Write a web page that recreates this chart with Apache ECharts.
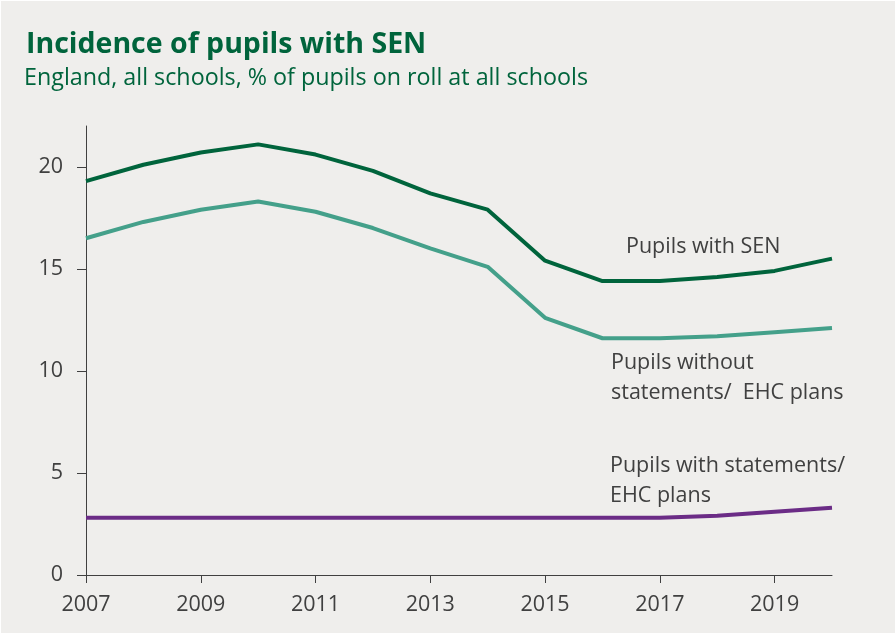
<!DOCTYPE html>
<html>
<head>
<meta charset="utf-8">
<script src="https://cdn.jsdelivr.net/npm/echarts@6/dist/echarts.min.js"></script>
<style>
  html, body { margin: 0; padding: 0; background: #fff; }
  #chart { width: 894px; height: 632px; margin: 1px 0 0 1px; background: #efeeec; }
</style>
</head>
<body>
<div id="chart"></div>
<script>
var years = ['2007', '2008', '2009', '2010', '2011', '2012', '2013', '2014', '2015', '2016', '2017', '2018', '2019', '2020']
var withSen = [19.3, 20.1, 20.7, 21.1, 20.6, 19.8, 18.7, 17.9, 15.4, 14.4, 14.4, 14.6, 14.9, 15.5]
var withoutPlans = [16.5, 17.3, 17.9, 18.3, 17.8, 17.0, 16.0, 15.1, 12.6, 11.6, 11.6, 11.7, 11.9, 12.1]
var withPlans = [2.8, 2.8, 2.8, 2.8, 2.8, 2.8, 2.8, 2.8, 2.8, 2.8, 2.8, 2.9, 3.1, 3.3]
var yTicks = [0, 5, 10, 15, 20]

var textColor = '#404040'
var green = '#00643c'
var fontName = '"Open Sans", "Noto Sans", sans-serif'

var chart = echarts.init(document.getElementById('chart'))

var lineSeries = function (name, data, color) {
    return {
        name: name,
        type: 'line',
        data: data,
        symbol: 'none',
        lineStyle: { color: color, width: 4 },
        itemStyle: { color: color },
        z: 3
    }
}

var label = function (x, y, text) {
    return {
        type: 'text',
        left: x,
        top: y,
        style: {
            text: text,
            fill: textColor,
            font: '21.5px ' + fontName,
            lineHeight: 30
        }
    }
}

var option = {
    backgroundColor: '#efeeec',
    animation: false,
    title: [
        {
            text: 'Incidence of pupils with SEN',
            left: 25,
            top: 29,
            padding: 0,
            textStyle: {
                color: green,
                fontSize: 28.5,
                fontWeight: 'bold',
                fontFamily: fontName
            }
        },
        {
            text: 'England, all schools, % of pupils on roll at all schools',
            left: 23,
            top: 66,
            padding: 0,
            textStyle: {
                color: green,
                fontSize: 23.3,
                fontWeight: 'normal',
                fontFamily: fontName
            }
        }
    ],
    grid: {
        left: 85,
        right: 63,
        top: 125,
        bottom: 58
    },
    xAxis: {
        type: 'category',
        data: years,
        boundaryGap: false,
        axisLine: { lineStyle: { color: textColor, width: 1 } },
        axisTick: { interval: 1, length: 8, lineStyle: { color: textColor } },
        axisLabel: {
            interval: 1,
            color: textColor,
            fontSize: 21.5,
            fontFamily: fontName,
            margin: 19
        },
        splitLine: { show: false }
    },
    yAxis: {
        type: 'value',
        min: 0,
        max: 22,
        interval: 5,
        axisLine: { show: true, lineStyle: { color: textColor, width: 1 } },
        axisTick: { show: true, length: 9, customValues: yTicks, lineStyle: { color: textColor } },
        axisLabel: {
            customValues: yTicks,
            color: textColor,
            fontSize: 21.5,
            fontFamily: fontName,
            margin: 23
        },
        splitLine: { show: false }
    },
    series: [
        lineSeries('Pupils with SEN', withSen, green),
        lineSeries('Pupils without statements/ EHC plans', withoutPlans, '#44a08a'),
        lineSeries('Pupils with statements/ EHC plans', withPlans, '#6b2c86')
    ],
    graphic: [
        label(625, 231, 'Pupils with SEN'),
        label(610, 347, 'Pupils without\nstatements/  EHC plans'),
        label(609, 450, 'Pupils with statements/\nEHC plans')
    ]
}

chart.setOption(option)
</script>
</body>
</html>
